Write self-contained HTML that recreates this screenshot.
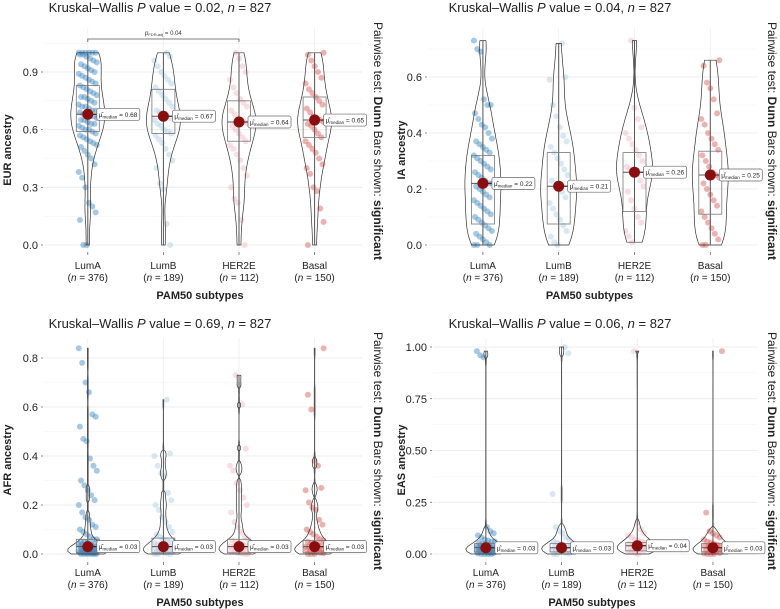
<!DOCTYPE html>
<html><head><meta charset="utf-8"><style>
body{margin:0;background:#fff}
svg{display:block;font-family:"Liberation Sans",sans-serif}
</style></head><body>
<svg id="chart" width="780" height="609" viewBox="0 0 780 609" xmlns="http://www.w3.org/2000/svg"></svg>
<script>
const categories = ["LumA","LumB","HER2E","Basal"];
const counts = [376,189,112,150];
const colors = ["#3a87c2","#a9cbe3","#eeb5c2","#d6544f"];

const eurPoints = [
 [1,1,1,1,1,1,0.99,0.99,0.98,0.97,0.96,0.95,0.94,0.93,0.92,0.91,0.9,0.89,0.88,0.87,0.86,0.85,0.84,0.83,0.82,0.81,0.8,0.79,0.78,0.77,0.77,0.76,0.75,0.74,0.73,0.72,0.72,0.71,0.7,0.7,0.69,0.68,0.68,0.67,0.67,0.66,0.65,0.65,0.64,0.63,0.63,0.62,0.61,0.6,0.6,0.59,0.58,0.57,0.56,0.55,0.54,0.53,0.52,0.51,0.49,0.47,0.45,0.42,0.38,0.35,0.3,0.22,0.2,0.17,0.13,0,0],
 [1,0.98,0.96,0.93,0.9,0.88,0.86,0.84,0.82,0.8,0.78,0.76,0.74,0.72,0.7,0.69,0.68,0.67,0.66,0.65,0.63,0.62,0.6,0.59,0.58,0.57,0.55,0.53,0.5,0.47,0.44,0.4,0.32,0.29,0.11,0],
 [1,0.97,0.93,0.9,0.86,0.82,0.79,0.76,0.74,0.72,0.7,0.68,0.66,0.65,0.64,0.63,0.62,0.6,0.58,0.56,0.54,0.52,0.5,0.47,0.44,0.4,0.36,0.3,0.24,0.22,0.13,0],
 [1,0.99,0.96,0.93,0.9,0.87,0.84,0.81,0.79,0.77,0.75,0.73,0.71,0.69,0.67,0.66,0.65,0.64,0.63,0.62,0.6,0.58,0.56,0.54,0.52,0.5,0.48,0.45,0.42,0.4,0.37,0.3,0.28,0.19,0.12,0]];
const eurMedian = [0.68,0.67,0.64,0.65];
const eurQ1 = [0.59,0.58,0.54,0.56];
const eurQ3 = [0.83,0.81,0.75,0.77];

const iaPoints = [
 [0.73,0.7,0.69,0.52,0.5,0.5,0.47,0.45,0.43,0.42,0.4,0.38,0.37,0.36,0.35,0.34,0.33,0.32,0.31,0.3,0.29,0.28,0.27,0.26,0.25,0.24,0.23,0.22,0.22,0.21,0.2,0.19,0.18,0.17,0.16,0.15,0.14,0.13,0.12,0.11,0.1,0.09,0.08,0.07,0.06,0.05,0.04,0.03,0.02,0.01,0,0,0],
 [0.72,0.6,0.59,0.5,0.46,0.42,0.39,0.37,0.35,0.33,0.31,0.29,0.27,0.25,0.23,0.21,0.2,0.19,0.17,0.15,0.13,0.11,0.09,0.07,0.05,0.03,0.01,0],
 [0.73,0.49,0.45,0.42,0.4,0.38,0.36,0.34,0.32,0.3,0.28,0.27,0.26,0.25,0.23,0.21,0.19,0.16,0.13,0.1,0.08,0.05,0.03,0.01],
 [0.66,0.64,0.58,0.56,0.52,0.47,0.45,0.43,0.4,0.38,0.36,0.34,0.32,0.3,0.28,0.26,0.25,0.24,0.22,0.2,0.18,0.16,0.14,0.12,0.1,0.08,0.06,0.04,0.02,0,0]];
const iaMedian = [0.22,0.21,0.26,0.25];
const iaQ1 = [0.075,0.075,0.12,0.11];
const iaQ3 = [0.32,0.33,0.33,0.335];

const afrPoints = [
 [0.84,0.78,0.7,0.66,0.57,0.56,0.52,0.47,0.46,0.39,0.36,0.34,0.3,0.28,0.26,0.24,0.22,0.2,0.17,0.15,0.14,0.12,0.11,0.1,0.09,0.08,0.07,0.06,0.06,0.05,0.05,0.05,0.04,0.04,0.04,0.04,0.035,0.03,0.03,0.03,0.03,0.025,0.025,0.02,0.02,0.02,0.02,0.015,0.015,0.015,0.01,0.01,0.01,0.01,0.01,0.008,0.006,0.005,0.005,0.004,0.003,0.002,0.001,0,0,0,0,0],
 [0.63,0.41,0.4,0.36,0.33,0.32,0.25,0.22,0.2,0.18,0.15,0.13,0.11,0.09,0.08,0.07,0.06,0.055,0.05,0.045,0.04,0.04,0.035,0.03,0.03,0.025,0.02,0.02,0.015,0.015,0.01,0.01,0.008,0.005,0.003,0,0,0],
 [0.73,0.69,0.61,0.43,0.36,0.34,0.29,0.26,0.23,0.2,0.17,0.13,0.11,0.09,0.07,0.06,0.055,0.05,0.045,0.04,0.035,0.03,0.03,0.025,0.02,0.02,0.015,0.01,0.01,0.005,0.003,0,0],
 [0.84,0.65,0.59,0.38,0.36,0.27,0.26,0.21,0.19,0.18,0.14,0.12,0.1,0.09,0.08,0.07,0.06,0.055,0.05,0.045,0.04,0.04,0.035,0.03,0.03,0.025,0.02,0.02,0.015,0.015,0.01,0.01,0.008,0.005,0.003,0,0,0]];
const afrMedian = [0.03,0.03,0.03,0.03];
const afrQ1 = [0.005,0.005,0.005,0.005];
const afrQ3 = [0.06,0.065,0.06,0.055];

const easPoints = [
 [0.98,0.96,0.95,0.13,0.11,0.1,0.09,0.08,0.07,0.065,0.06,0.06,0.055,0.05,0.05,0.045,0.04,0.04,0.04,0.035,0.035,0.03,0.03,0.03,0.03,0.025,0.025,0.02,0.02,0.02,0.02,0.015,0.015,0.01,0.01,0.01,0.01,0.008,0.005,0.005,0.003,0,0,0,0],
 [1,0.97,0.29,0.13,0.11,0.1,0.08,0.07,0.06,0.055,0.05,0.045,0.04,0.04,0.035,0.03,0.03,0.025,0.02,0.02,0.015,0.01,0.01,0.005,0.003,0,0],
 [0.98,0.15,0.12,0.1,0.09,0.08,0.07,0.065,0.06,0.055,0.05,0.045,0.04,0.04,0.035,0.03,0.03,0.025,0.02,0.02,0.015,0.01,0.01,0.005,0],
 [0.98,0.2,0.11,0.1,0.09,0.08,0.07,0.06,0.055,0.05,0.045,0.04,0.04,0.035,0.03,0.03,0.025,0.02,0.02,0.015,0.01,0.01,0.005,0.003,0,0,0]];
const easMedian = [0.03,0.03,0.04,0.03];
const easQ1 = [0.01,0.01,0.015,0.01];
const easQ3 = [0.05,0.05,0.055,0.05];

const eurTicks = [0,0.3,0.6,0.9];
const iaTicks = [0,0.2,0.4,0.6];
const afrTicks = [0,0.2,0.4,0.6,0.8];
const easTicks = [0,0.25,0.5,0.75,1];
const eurTickLabels = ["0.0","0.3","0.6","0.9"];
const iaTickLabels = ["0.0","0.2","0.4","0.6"];
const afrTickLabels = ["0.0","0.2","0.4","0.6","0.8"];
const easTickLabels = ["0.00","0.25","0.50","0.75","1.00"];
const kwP = ["0.02","0.04","0.69","0.06"];

const NS="http://www.w3.org/2000/svg";
const svg=document.getElementById('chart');
function mk(tag,attrs,parent){const e=document.createElementNS(NS,tag);for(const k in attrs)e.setAttribute(k,attrs[k]);(parent||svg).appendChild(e);return e;}

const panels=[
 {key:'eur',pts:eurPoints,med:eurMedian,q1:eurQ1,q3:eurQ3,ticks:eurTicks,tl:eurTickLabels,ox:0,oy:0,gx0:44,gx1:362,catL:50,step:75.6,y0:245,ymax:0.9,ymaxY:72,vw:17,bw:0.07,grid:[0.15,0.45,0.75,1.05],p:kwP[0],title:'EUR ancestry',titleX:8,tY:12,lY:269,clamp:0},
 {key:'ia',pts:iaPoints,med:iaMedian,q1:iaQ1,q3:iaQ3,ticks:iaTicks,tl:iaTickLabels,ox:390,oy:0,gx0:38,gx1:367,catL:55,step:75.8,y0:245,ymax:0.6,ymaxY:77,vw:18,bw:0.06,grid:[0.1,0.3,0.5,0.7],p:kwP[1],title:'IA ancestry',titleX:12,tY:12,lY:269,clamp:0},
 {key:'afr',pts:afrPoints,med:afrMedian,q1:afrQ1,q3:afrQ3,ticks:afrTicks,tl:afrTickLabels,ox:0,oy:310,gx0:44,gx1:362,catL:50,step:75.6,y0:244,ymax:0.8,ymaxY:48,vw:20,bw:0.018,grid:[0.1,0.3,0.5,0.7],p:kwP[2],title:'AFR ancestry',titleX:8,tY:18,lY:266,clamp:1.5},
 {key:'eas',pts:easPoints,med:easMedian,q1:easQ1,q3:easQ3,ticks:easTicks,tl:easTickLabels,ox:390,oy:310,gx0:43,gx1:367,catL:58,step:75.7,y0:244,ymax:1,ymaxY:37,vw:20,bw:0.02,grid:[0.125,0.375,0.625,0.875],p:kwP[3],title:'EAS ancestry',titleX:12,tY:18,lY:266,clamp:1.5}
];

panels.forEach((P,pi)=>{
 const g=mk('g',{transform:`translate(${P.ox},${P.oy})`});
 
 
 const yS=v=>P.y0-(v/P.ymax)*(P.y0-P.ymaxY);
 const xS=i=>P.catL+(i+0.5)*P.step;
 P.grid.forEach(v=>{if(yS(v)<25)return;const l=mk('line',{x1:P.gx0,x2:P.gx1,y1:yS(v),y2:yS(v),stroke:'#f3f3f3','stroke-width':0.6},g);
  });
 P.ticks.forEach((v,i)=>{
  const l=mk('line',{x1:P.gx0,x2:P.gx1,y1:yS(v),y2:yS(v),stroke:'#e8e8e8','stroke-width':0.8},g);
  
  const t=mk('text',{x:P.gx0-6,y:yS(v)+4,'text-anchor':'end','font-size':11,fill:'#222'},g);t.textContent=P.tl[i];
  
  mk('line',{x1:P.gx0-3,x2:P.gx0-1,y1:yS(v),y2:yS(v),stroke:'#555','stroke-width':0.7},g);
 });
 categories.forEach((c,i)=>{
  const l=mk('line',{x1:xS(i),x2:xS(i),y1:28,y2:252,stroke:'#eeeeee','stroke-width':0.8},g);
  
  mk('line',{x1:xS(i),x2:xS(i),y1:252,y2:255,stroke:'#555','stroke-width':0.7},g);
  const t=mk('text',{x:xS(i),y:P.lY,'text-anchor':'middle','font-size':10,fill:'#222'},g);t.textContent=c;
  
  const t2=mk('text',{x:xS(i),y:P.lY+12,'text-anchor':'middle','font-size':10,fill:'#222'},g);
  t2.innerHTML=`(<tspan font-style="italic">n</tspan> = ${counts[i]})`;
  
 });
 categories.forEach((c,i)=>{
  const pts=P.pts[i];
  pts.forEach((v,j)=>{
   const jit=(((j*37+i*11)%17)-8)/8*9;
   const ci=mk('circle',{cx:xS(i)+jit,cy:yS(v),r:3,fill:colors[i],'fill-opacity':0.45},g);
   
   
  });
  const mn=Math.min(...pts),mx=Math.max(...pts);
  const N=80,dens=[];
  for(let k=0;k<=N;k++){const y=mn+(mx-mn)*k/N;let s=0;pts.forEach(p=>{const z=(y-p)/P.bw;s+=Math.exp(-0.5*z*z);});dens.push([y,s]);}
  const dm=Math.max(...dens.map(d=>d[1]));
  const wf=s=>{let w=s/dm*P.vw;if(P.clamp&&w<P.clamp)w=Math.min(w,0.4);return w;};
  let d='';dens.forEach((p,k)=>{d+=(k?'L':'M')+(xS(i)+wf(p[1])).toFixed(1)+','+yS(p[0]).toFixed(1);});
  for(let k=N;k>=0;k--){d+='L'+(xS(i)-wf(dens[k][1])).toFixed(1)+','+yS(dens[k][0]).toFixed(1);}
  const vp=mk('path',{d:d+'Z',fill:'none',stroke:'#333','stroke-width':0.7},g);
  
  mk('line',{x1:xS(i),x2:xS(i),y1:yS(mn),y2:yS(mx),stroke:'#555','stroke-width':1},g);
  const bx=mk('rect',{x:xS(i)-11.5,y:yS(P.q3[i]),width:23,height:yS(P.q1[i])-yS(P.q3[i]),fill:'none',stroke:'#777','stroke-width':0.8},g);
  
  mk('line',{x1:xS(i)-11.5,x2:xS(i)+11.5,y1:yS(P.med[i]),y2:yS(P.med[i]),stroke:'#555','stroke-width':1},g);
  const my=yS(P.med[i]);
  mk('line',{x1:xS(i),x2:xS(i)+10,y1:my,y2:my,stroke:'#222','stroke-width':1},g);
  const lb=mk('g',{},g);
  mk('rect',{x:xS(i)+9,y:my-6,width:43,height:12,rx:2,fill:'#fff',stroke:'#666','stroke-width':0.7},lb);
  const lt=mk('text',{x:xS(i)+11,y:my+2.5,'font-size':6.5,fill:'#222'},lb);
  lt.innerHTML=`μ̂<tspan font-size="4.5" dy="1.5">median</tspan><tspan dy="-1.5"> = ${P.med[i].toFixed(2)}</tspan>`;
  const md=mk('circle',{cx:xS(i),cy:my,r:5.5,fill:'#8b0d0d'},g);
  
 });
 const tt=mk('text',{x:pi%2?170:160,y:P.tY,'text-anchor':'middle','font-size':13,fill:'#222'},g);
 tt.innerHTML=`Kruskal–Wallis <tspan font-style="italic">P</tspan> value = ${P.p}, <tspan font-style="italic">n</tspan> = 827`;
 
 const xt=mk('text',{x:(P.gx0+P.gx1)/2-3,y:P.lY+30,'text-anchor':'middle','font-size':11,'font-weight':'bold',fill:'#222'},g);
 xt.textContent='PAM50 subtypes';
 const yt=mk('text',{x:0,y:0,transform:`translate(${P.titleX},150) rotate(-90)`,'text-anchor':'middle','dominant-baseline':'middle','font-size':11,'font-weight':'bold',fill:'#222'},g);
 yt.textContent=P.title;
 const rt=mk('text',{x:0,y:0,transform:`translate(${pi%2?378:374},141) rotate(90)`,'text-anchor':'middle','font-size':12,fill:'#222'},g);
 rt.innerHTML='Pairwise test: <tspan font-weight="bold">Dunn</tspan> Bars shown: <tspan font-weight="bold">significant</tspan>';
 
 if(P.key==='eur'){
  const sb=mk('path',{d:`M${xS(0)},42V39H${xS(2)}V42`,fill:'none',stroke:'#555','stroke-width':0.8},g);
  
  const st=mk('text',{x:(xS(0)+xS(2))/2,y:35,'text-anchor':'middle','font-size':6,fill:'#333'},g);
  st.innerHTML='<tspan font-style="italic">p</tspan><tspan font-size="4" dy="1">FDR-adj</tspan><tspan dy="-1"> = 0.04</tspan>';
  
 }
});
</script>
</body></html>
